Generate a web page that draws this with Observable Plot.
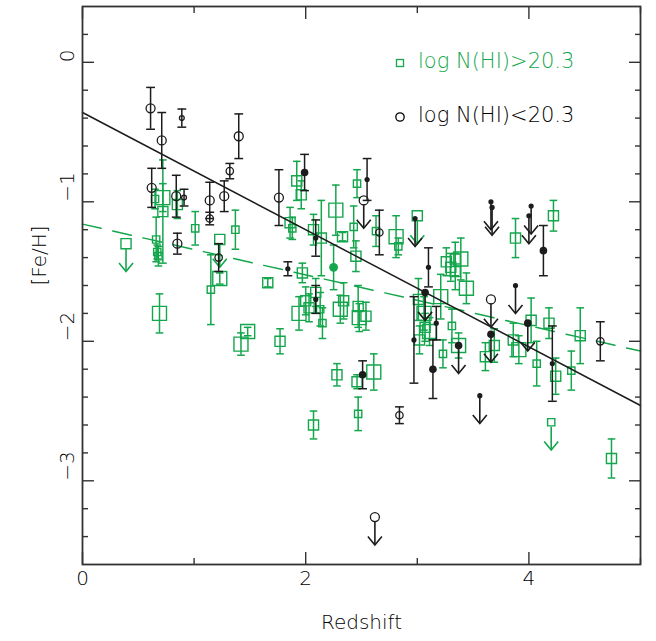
<!DOCTYPE html>
<html><head><meta charset="utf-8">
<script src="https://cdn.jsdelivr.net/npm/d3@7"></script>
<script src="https://cdn.jsdelivr.net/npm/@observablehq/plot@0.6"></script>
<style>
html,body{margin:0;padding:0;background:#fff;}
#chart{position:relative;width:656px;height:641px;overflow:hidden;}
#chart > svg{position:absolute;left:0;top:0;}
#chart text{font-weight:200;}
.leg{position:absolute;font-family:"DejaVu Sans",sans-serif;font-weight:200;font-size:21px;white-space:nowrap;line-height:1;}
</style></head><body>
<div id="chart"></div>
<script>
// ---- data: [redshift, [Fe/H], error, marker class] ----
// DLAs, log N(HI) > 20.3 (green squares)
const dlaRows = [
  [0.65,-0.98,0.07,1],[0.72,-0.97,0.10,3],[0.72,-1.07,0.37,2],[0.66,-1.27,0.16,1],
  [0.68,-1.39,0.07,1],[0.67,-1.36,0.05,1],[0.69,-1.80,0.14,3],[0.85,-1.02,0.10,2],
  [1.01,-1.19,0.12,1],[1.15,-1.63,0.25,1],[1.23,-1.55,0.04,3],[1.37,-1.20,0.14,1],
  [1.42,-2.02,0.08,3],[1.48,-1.93,0.03,3],[1.66,-1.58,0.03,2],[1.77,-2.00,0.09,2],
  [1.92,-0.85,0.14,2],[1.96,-0.95,0.10,2],[1.86,-1.15,0.11,2],[1.88,-1.19,0.08,1],
  [2.07,-1.20,0.11,2],[2.14,-1.26,0.27,2],[2.27,-1.06,0.18,3],[2.33,-1.25,0.03,2],
  [2.46,-0.87,0.10,1],[2.43,-1.18,0.15,1],[2.45,-1.39,0.11,2],[2.63,-1.21,0.11,1],
  [2.81,-1.25,0.15,3],[2.83,-1.32,0.06,1],[1.97,-1.51,0.07,2],[1.94,-1.80,0.12,3],
  [2.00,-1.71,0.10,2],[2.03,-1.76,0.10,2],[2.09,-1.65,0.10,2],[2.13,-1.77,0.12,1],
  [2.15,-1.87,0.11,1],[2.31,-1.77,0.10,3],[2.34,-1.71,0.13,2],[2.47,-1.75,0.15,2],
  [2.48,-1.83,0.10,3],[2.54,-1.82,0.10,2],[2.28,-2.24,0.08,2],[2.46,-2.29,0.05,2],
  [2.61,-2.22,0.13,3],[2.07,-2.60,0.10,2],[2.47,-2.52,0.12,1],[3.26,-1.43,0.10,2],
  [3.30,-1.47,0.10,2],[3.34,-1.41,0.12,2],[3.39,-1.41,0.15,3],[3.34,-1.50,0.13,2],
  [3.44,-1.62,0.11,3],[3.21,-1.68,0.16,3],[3.01,-1.70,0.15,2],[3.06,-1.80,0.12,3],
  [3.07,-1.90,0.10,2],[3.11,-1.93,0.10,3],[3.02,-1.99,0.10,2],[3.31,-1.89,0.12,1],
  [3.23,-2.09,0.10,1],[3.37,-2.03,0.09,3],[3.61,-2.11,0.10,2],[3.69,-2.03,0.12,2],
  [3.86,-1.99,0.12,2],[3.91,-2.06,0.10,3],[4.02,-1.85,0.16,2],[4.18,-1.87,0.11,2],
  [4.07,-2.16,0.16,1],[4.24,-2.25,0.13,2],[4.38,-2.21,0.14,1],[4.46,-1.96,0.20,2],
  [4.22,-1.10,0.11,2],[3.88,-1.26,0.14,2],[4.74,-2.84,0.14,2]
];
const dlaFilledRows = [[2.25,-1.47,0.16,2]];
// DLA upper limits: [redshift, [Fe/H], marker class]
const dlaLimitRows = [[0.39,-1.30,2],[1.23,-1.27,2],[3.00,-1.10,2],[4.20,-2.58,1]];

// sub-DLAs, log N(HI) < 20.3 (black)
const subOpenRows = [
  [0.61,-0.33,0.15,3],[0.71,-0.56,0.20,3],[0.89,-0.40,0.065,1],[1.40,-0.53,0.16,3],
  [1.32,-0.78,0.055,2],[1.76,-0.97,0.20,3],[0.62,-0.90,0.14,3],[0.84,-0.96,0.15,3],
  [0.91,-0.97,0.06,1],[1.14,-0.99,0.13,3],[1.14,-1.12,0.045,2],[1.27,-0.96,0.11,3],
  [0.85,-1.30,0.075,3],[1.22,-1.40,0.10,2],[2.66,-1.22,0.16,2],[2.84,-2.53,0.06,2],
  [4.64,-2.00,0.14,2]
];
const subFilledRows = [
  [1.99,-0.79,0.13,2],[2.55,-0.84,0.15,1],[2.09,-1.26,0.13,1],[1.84,-1.48,0.05,1],
  [3.10,-1.47,0.14,1],[2.09,-1.70,0.10,1],[2.97,-1.99,0.31,1],[3.14,-2.20,0.21,2],
  [3.17,-1.87,0.12,1],[4.13,-1.35,0.18,2],[4.21,-2.16,0.27,1],[2.51,-2.24,0.10,2]
];
const subOpenLimitRows = [[2.52,-0.99,3],[3.66,-1.70,3],[2.62,-3.26,3]];
const subFilledLimitRows = [
  [2.98,-1.12,1],[3.07,-1.65,2],[3.37,-2.03,2],[3.66,-1.95,2],[3.88,-1.60,1],
  [3.99,-1.87,2],[3.56,-2.39,1],[3.66,-1.00,1],[3.67,-1.04,1],[4.02,-1.03,1],[4.00,-1.10,1]
];

// linear fits: endpoints [redshift, [Fe/H]]
const fitAll = [[0,-0.36],[5,-2.46]];
const fitDLA = [[0,-1.16],[5,-2.07]];

// axes
const xMajor = [0,2,4];
const xMinor = [1,3,5];
const yMajor = [0,-1,-2,-3];
const yMinor = [0.2,-0.2,-0.4,-0.6,-0.8,-1.2,-1.4,-1.6,-1.8,-2.2,-2.4,-2.6,-2.8,-3.2,-3.4];
const xLabels = ["0","2","4"];
const yLabels = ["0","\u22121","\u22122","\u22123"];
const legendLabels = ["log N(HI)>20.3","log N(HI)<20.3"];
const xTitle = "Redshift", yTitle = "[Fe/H]";

// ---- build ----
const green = "#14a64c", ink = "#1c1c1c", axisInk = "#333", textInk = "#000";
const font = "'DejaVu Sans', sans-serif";
const err = rows => rows.map(([z, feh, e, c]) => ({z, feh, e, c}));
const lim = rows => rows.map(([z, feh, c]) => ({z, feh, c}));
const dla = err(dlaRows), dlaF = err(dlaFilledRows), dlaL = lim(dlaLimitRows);
const subO = err(subOpenRows), subF = err(subFilledRows);
const subOL = lim(subOpenLimitRows), subFL = lim(subFilledLimitRows);

const sqR = {1: 4.1, 2: 5.7, 3: 7.9};     // square "radius" (side = 1.77 r)
const ocR = {1: 2.4, 2: 3.7, 3: 4.5};     // open circles
const fcR = {1: 2.6, 2: 3.8};              // filled circles
const drop = 0.2;                          // upper-limit arrow length in dex

const capSym = {draw(ctx, size){ const w = Math.sqrt(size/Math.PI); ctx.moveTo(-w,0); ctx.lineTo(w,0); }};
const vSym = {draw(ctx){ ctx.moveTo(-7,-8.5); ctx.lineTo(0,0); ctx.lineTo(7,-8.5); }};

function errMarks(data, color, cap){
  return [
    Plot.ruleX(data, {x:"z", y1:d=>d.feh-d.e, y2:d=>d.feh+d.e, stroke:color, strokeWidth:1.5}),
    Plot.dot(data, {x:"z", y:d=>d.feh+d.e, symbol:capSym, r:cap, stroke:color, fill:"none", strokeWidth:1.5}),
    Plot.dot(data, {x:"z", y:d=>d.feh-d.e, symbol:capSym, r:cap, stroke:color, fill:"none", strokeWidth:1.5})
  ];
}
function limMarks(data, color, inset){
  return [
    Plot.ruleX(data, {x:"z", y1:"feh", y2:d=>d.feh-drop, stroke:color, strokeWidth:1.6, insetTop:inset}),
    Plot.dot(data, {x:"z", y:d=>d.feh-drop, symbol:vSym, stroke:color, fill:"none", strokeWidth:1.6})
  ];
}

const chart = Plot.plot({
  width:656, height:641,
  marginLeft:82, marginRight:16, marginTop:6, marginBottom:77,
  x:{domain:[0,5]}, y:{domain:[-3.6,0.4]},
  r:{type:"identity"},
  style:{fontFamily:font, fontSize:"20px", color:textInk, background:"#fff"},
  marks:[
    // ticks (inward, all four sides)
    Plot.axisX(xMajor, {anchor:"bottom", tickSize:-12, tickFormat:()=>"", label:null, stroke:axisInk, strokeWidth:1.4}),
    Plot.axisX(xMinor, {anchor:"bottom", tickSize:-6, tickFormat:()=>"", label:null, stroke:axisInk, strokeWidth:1.4}),
    Plot.axisX(xMajor, {anchor:"top", tickSize:-12, tickFormat:()=>"", label:null, stroke:axisInk, strokeWidth:1.4}),
    Plot.axisX(xMinor, {anchor:"top", tickSize:-6, tickFormat:()=>"", label:null, stroke:axisInk, strokeWidth:1.4}),
    Plot.axisY(yMajor, {anchor:"left", tickSize:-12, tickFormat:()=>"", label:null, stroke:axisInk, strokeWidth:1.4}),
    Plot.axisY(yMinor, {anchor:"left", tickSize:-6, tickFormat:()=>"", label:null, stroke:axisInk, strokeWidth:1.4}),
    Plot.axisY(yMajor, {anchor:"right", tickSize:-12, tickFormat:()=>"", label:null, stroke:axisInk, strokeWidth:1.4}),
    Plot.axisY(yMinor, {anchor:"right", tickSize:-6, tickFormat:()=>"", label:null, stroke:axisInk, strokeWidth:1.4}),
    // tick labels and titles
    Plot.text(xMajor, {x:d=>d, frameAnchor:"bottom", dy:20, text:(d,i)=>xLabels[i], fill:textInk, fontSize:20}),
    Plot.text(yMajor, {y:d=>d, frameAnchor:"left", dx:-15, rotate:-90, text:(d,i)=>yLabels[i], fill:textInk, fontSize:20}),
    Plot.text([xTitle], {frameAnchor:"bottom", dy:64, text:d=>d, fill:textInk, fontSize:20}),
    Plot.text([yTitle], {frameAnchor:"left", dx:-43, rotate:-90, text:d=>d, fill:textInk, fontSize:20}),
    // DLA (green)
    ...errMarks(dla, green, 3.8),
    Plot.dot(dla, {x:"z", y:"feh", symbol:"square", r:d=>sqR[d.c], stroke:green, fill:"none", strokeWidth:1.4}),
    ...errMarks(dlaF, green, 3.8),
    Plot.dot(dlaF, {x:"z", y:"feh", r:d=>fcR[d.c]+0.6, fill:green, stroke:"none"}),
    ...limMarks(dlaL, green, 5),
    Plot.dot(dlaL, {x:"z", y:"feh", symbol:"square", r:d=>sqR[d.c], stroke:green, fill:"none", strokeWidth:1.4}),
    // fits
    Plot.line(fitDLA, {x:d=>d[0], y:d=>d[1], stroke:green, strokeWidth:1.5, strokeDasharray:"19,12"}),
    Plot.line(fitAll, {x:d=>d[0], y:d=>d[1], stroke:ink, strokeWidth:1.5}),
    // sub-DLA (black)
    ...errMarks(subO, ink, 4.4),
    Plot.dot(subO, {x:"z", y:"feh", r:d=>ocR[d.c], stroke:ink, fill:"none", strokeWidth:1.3}),
    ...errMarks(subF, ink, 4.4),
    Plot.dot(subF, {x:"z", y:"feh", r:d=>fcR[d.c], fill:ink, stroke:"none"}),
    ...limMarks(subOL, ink, 4.5),
    Plot.dot(subOL, {x:"z", y:"feh", r:d=>ocR[d.c], stroke:ink, fill:"none", strokeWidth:1.3}),
    ...limMarks(subFL, ink, 0),
    Plot.dot(subFL, {x:"z", y:"feh", r:d=>fcR[d.c], fill:ink, stroke:"none"}),
    Plot.frame({stroke:axisInk, strokeWidth:1.8})
  ]
});
const host = document.getElementById("chart");
host.appendChild(chart);

// legend (inside plot, top right)
const legItems = [
  {label:legendLabels[0], color:green, shape:"square", top:62},
  {label:legendLabels[1], color:"#000", shape:"circle", top:116}
];
for (const it of legItems) {
  const mk = document.createElementNS("http://www.w3.org/2000/svg","svg");
  mk.setAttribute("width","12"); mk.setAttribute("height","12");
  mk.style.position="absolute"; mk.style.left="394px"; mk.style.top=(it.top-6+1)+"px";
  mk.innerHTML = it.shape==="square"
    ? `<rect x="2.5" y="2.5" width="7" height="7" fill="none" stroke="${it.color}" stroke-width="1.3"/>`
    : `<circle cx="6" cy="6" r="4.2" fill="none" stroke="${it.color}" stroke-width="1.3"/>`;
  host.appendChild(mk);
  const t = document.createElement("div");
  t.className="leg"; t.textContent=it.label; t.style.color=it.color;
  t.style.left="418px"; t.style.top=(it.top-11)+"px";
  host.appendChild(t);
}
</script></body></html>
